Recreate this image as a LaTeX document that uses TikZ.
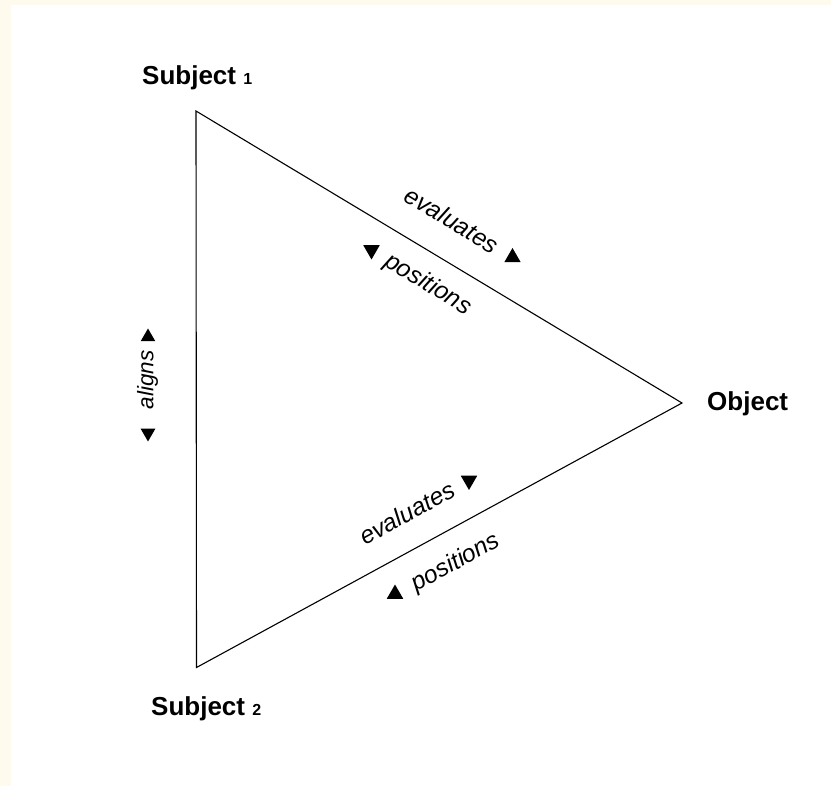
\documentclass[tikz,border=0pt]{standalone}
\usepackage{fontspec}
\setmainfont{Liberation Sans}
\usetikzlibrary{shapes.geometric}
\definecolor{cream}{RGB}{255,250,238}
\tikzset{
  vlabel/.style={font=\bfseries\fontsize{26}{26}\selectfont, inner sep=0pt, anchor=base west},
  elabel/.style={font=\itshape\fontsize{24.5}{24.5}\selectfont, inner sep=0pt},
  uptri/.style={regular polygon, regular polygon sides=3, fill=black, inner sep=0pt, minimum size=19pt},
  downtri/.style={uptri, shape border rotate=180},
  edge/.style={draw=black, line width=1.1pt, line join=miter}
}
\newcommand{\subnum}[1]{{\fontsize{16}{16}\selectfont #1}}
\begin{document}
\begin{tikzpicture}[x=1pt,y=-1pt]
\useasboundingbox (0,0) rectangle (831,786);
\fill[cream] (0,0) rectangle (831,786);
\fill[white] (11,5.5) rectangle (831,786);
% vertices
\coordinate (s1) at (196,111);
\coordinate (s2) at (196.5,667.5);
\coordinate (ob) at (682,403);
\draw[edge] (s1) -- (ob) -- (s2) -- cycle;
% vertex labels
\node[vlabel] (ls1) at (142,85) {Subject \subnum{1}};
\node[vlabel] (ls2) at (151,715) {Subject \subnum{2}};
\node[vlabel] (lob) at (707,411) {Object};
% top edge labels
\node[elabel, rotate=-31] (te) at (452,220) {evaluates};
\node[elabel, rotate=-31] (tp) at (428,285) {positions};
\node[uptri] (tua) at (512.5,257.5) {};
\node[downtri] (tda) at (371.5,250) {};
% bottom edge labels
\node[elabel, rotate=28.7] (be) at (407,513) {evaluates};
\node[elabel, rotate=28.7] (bp) at (456,563) {positions};
\node[downtri] (bda) at (469,480.5) {};
\node[uptri] (bua) at (395,594) {};
% left edge labels
\node[elabel, rotate=90, font=\itshape\fontsize{22.5}{22.5}\selectfont] (al) at (147.5,380) {aligns};
\node[uptri, minimum size=17pt] (lua) at (148,337) {};
\node[downtri, minimum size=17pt] (lda) at (148,433) {};
\end{tikzpicture}
\end{document}
